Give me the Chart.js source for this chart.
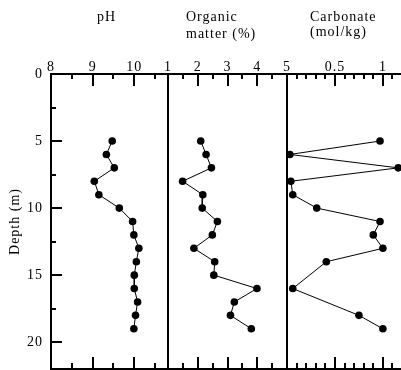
<!DOCTYPE html>
<html>
<head>
<meta charset="utf-8">
<script src="https://cdn.jsdelivr.net/npm/chart.js@4"></script>
<style>
	html, body { margin: 0; padding: 0; background: #fff; overflow: hidden; }
	#wrap { position: relative; width: 401px; height: 370px; overflow: hidden; }
	#wrap canvas { position: absolute; left: 0; top: 0; }
</style>
</head>
<body>
<div id="wrap">
	<canvas id="phChart" width="420" height="370"></canvas>
	<canvas id="organicChart" width="420" height="370"></canvas>
	<canvas id="carbonateChart" width="420" height="370"></canvas>
</div>
<script>
// sample depths (m)
const depths = [5, 6, 7, 8, 9, 10, 11, 12, 13, 14, 15, 16, 17, 18, 19];
const phValues = [9.47, 9.33, 9.52, 9.04, 9.15, 9.64, 9.96, 9.99, 10.11, 10.05, 10.0, 10.0, 10.08, 10.03, 9.99];
const organicValues = [2.10, 2.28, 2.46, 1.49, 2.17, 2.15, 2.66, 2.49, 1.87, 2.57, 2.54, 3.99, 3.23, 3.10, 3.80];
// no carbonate value at 15 m and 17 m
const carbonateDepths = [5, 6, 7, 8, 9, 10, 11, 12, 13, 14, 16, 18, 19];
const carbonateValues = [0.97, 0.03, 1.16, 0.04, 0.06, 0.31, 0.97, 0.90, 1.00, 0.41, 0.06, 0.75, 1.00];

const phTitle = ['pH'];
const organicTitle = ['Organic', 'matter (%)'];
const carbonateTitle = ['Carbonate', '(mol/kg)'];
const depthTitle = 'Depth (m)';

const depthTicks = [0, 5, 10, 15, 20];
const depthMinor = [2.5, 7.5, 12.5, 17.5];
const phTicks = [8, 9, 10];
const phMinor = [8.5, 9.5, 10.5];
const organicTicks = [1, 2, 3, 4, 5];
const organicMinor = [1.5, 2.5, 3.5, 4.5];
const carbonateTicks = [0.5, 1];
const carbonateMinor = [0.1, 0.2, 0.3, 0.4, 0.6, 0.7, 0.8, 0.9, 1.1];

const FONT = '"Liberation Serif", "Times New Roman", serif';

// inward tick marks, bottom edge line and the panel headings
const panelDecor = {
	id: 'panelDecor',
	beforeDraw(chart) {
		chart.ctx.letterSpacing = '1px';
	},
	afterDraw(chart, args, opts) {
		const ctx = chart.ctx;
		const area = chart.chartArea;
		const x = chart.scales.x;
		const y = chart.scales.y;
		ctx.save();
		ctx.strokeStyle = '#000';
		ctx.lineWidth = 2;
		ctx.beginPath();
		opts.xMajor.forEach(v => {
			const px = Math.round(x.getPixelForValue(v));
			ctx.moveTo(px, area.top); ctx.lineTo(px, area.top + 12);
			ctx.moveTo(px, area.bottom); ctx.lineTo(px, area.bottom - 12);
		});
		opts.xMinor.forEach(v => {
			const px = Math.round(x.getPixelForValue(v));
			ctx.moveTo(px, area.top); ctx.lineTo(px, area.top + 5);
			ctx.moveTo(px, area.bottom); ctx.lineTo(px, area.bottom - 6);
		});
		if (opts.yMajor) {
			opts.yMajor.forEach(v => {
				const py = Math.round(y.getPixelForValue(v));
				ctx.moveTo(area.left, py); ctx.lineTo(area.left + 11, py);
			});
			opts.yMinor.forEach(v => {
				const py = Math.round(y.getPixelForValue(v));
				ctx.moveTo(area.left, py); ctx.lineTo(area.left + 5, py);
			});
		}
		ctx.moveTo(area.left, area.bottom); ctx.lineTo(area.right, area.bottom);
		ctx.stroke();

		ctx.fillStyle = '#000';
		ctx.font = '14px ' + FONT;
		ctx.textAlign = 'left';
		ctx.textBaseline = 'alphabetic';
		opts.title.forEach((line, i) => {
			ctx.fillText(line, opts.titleX, opts.titleY + i * opts.titleGap);
		});
		ctx.restore();
	}
};

function makePanel(id, xs, ys, panel) {
	const ctx = document.getElementById(id);
	return new Chart(ctx, {
		type: 'scatter',
		data: {
			datasets: [{
				data: xs.map((v, i) => ({ x: v, y: ys[i] })),
				showLine: true,
				borderColor: '#000',
				borderWidth: 1,
				backgroundColor: '#000',
				pointBackgroundColor: '#000',
				pointBorderColor: '#000',
				pointBorderWidth: 0,
				pointRadius: 3.8,
				pointHoverRadius: 3.8,
				clip: false
			}]
		},
		options: {
			responsive: false,
			animation: false,
			events: [],
			layout: { autoPadding: false, padding: { left: panel.padLeft, right: panel.padRight, top: 0, bottom: 1 } },
			plugins: {
				legend: { display: false },
				tooltip: { enabled: false },
				panelDecor: {
					xMajor: panel.ticks,
					xMinor: panel.minor,
					yMajor: panel.yAxis ? depthTicks : null,
					yMinor: depthMinor,
					title: panel.title,
					titleX: panel.titleX,
					titleY: 21,
					titleGap: panel.titleGap
				}
			},
			scales: {
				x: {
					type: 'linear',
					position: 'top',
					min: panel.min,
					max: panel.max,
					afterFit: s => {
						s.height = 74;
						s.paddingLeft = 0;
						s.paddingRight = 0;
					},
					afterBuildTicks: s => { s.ticks = panel.ticks.map(v => ({ value: v })); },
					grid: { display: false, drawTicks: false },
					border: { display: true, color: '#000', width: 2 },
					ticks: {
						autoSkip: false,
						maxRotation: 0,
						padding: 0,
						color: '#000',
						font: { family: FONT, size: 14, lineHeight: 1 },
						callback: v => String(v)
					}
				},
				y: {
					type: 'linear',
					reverse: true,
					min: 0,
					max: 22,
					afterFit: s => {
						s.width = panel.yAxis ? 51 : 0;
						s.paddingTop = 0;
						s.paddingBottom = 0;
					},
					afterBuildTicks: s => { s.ticks = depthTicks.map(v => ({ value: v })); },
					grid: { display: false, drawTicks: false },
					border: { display: true, color: '#000', width: 2 },
					title: {
						display: panel.yAxis,
						text: depthTitle,
						color: '#000',
						font: { family: FONT, size: 14 },
						padding: { top: 7, bottom: 0 }
					},
					ticks: {
						display: panel.yAxis,
						autoSkip: false,
						padding: 8,
						color: '#000',
						font: { family: FONT, size: 14, lineHeight: 1 },
						callback: v => String(v)
					}
				}
			}
		},
		plugins: [panelDecor]
	});
}

makePanel('phChart', phValues, depths, {
	min: 8, max: 10.81, padLeft: 0, padRight: 252, yAxis: true,
	ticks: phTicks, minor: phMinor, title: phTitle, titleX: 97, titleGap: 16
});
makePanel('organicChart', organicValues, depths, {
	min: 1, max: 5, padLeft: 168, padRight: 133, yAxis: false,
	ticks: organicTicks, minor: organicMinor, title: organicTitle, titleX: 186, titleGap: 17
});
makePanel('carbonateChart', carbonateValues, carbonateDepths, {
	min: 0, max: 1.22, padLeft: 287, padRight: 16, yAxis: false,
	ticks: carbonateTicks, minor: carbonateMinor, title: carbonateTitle, titleX: 310, titleGap: 15
});
</script>
</body>
</html>
